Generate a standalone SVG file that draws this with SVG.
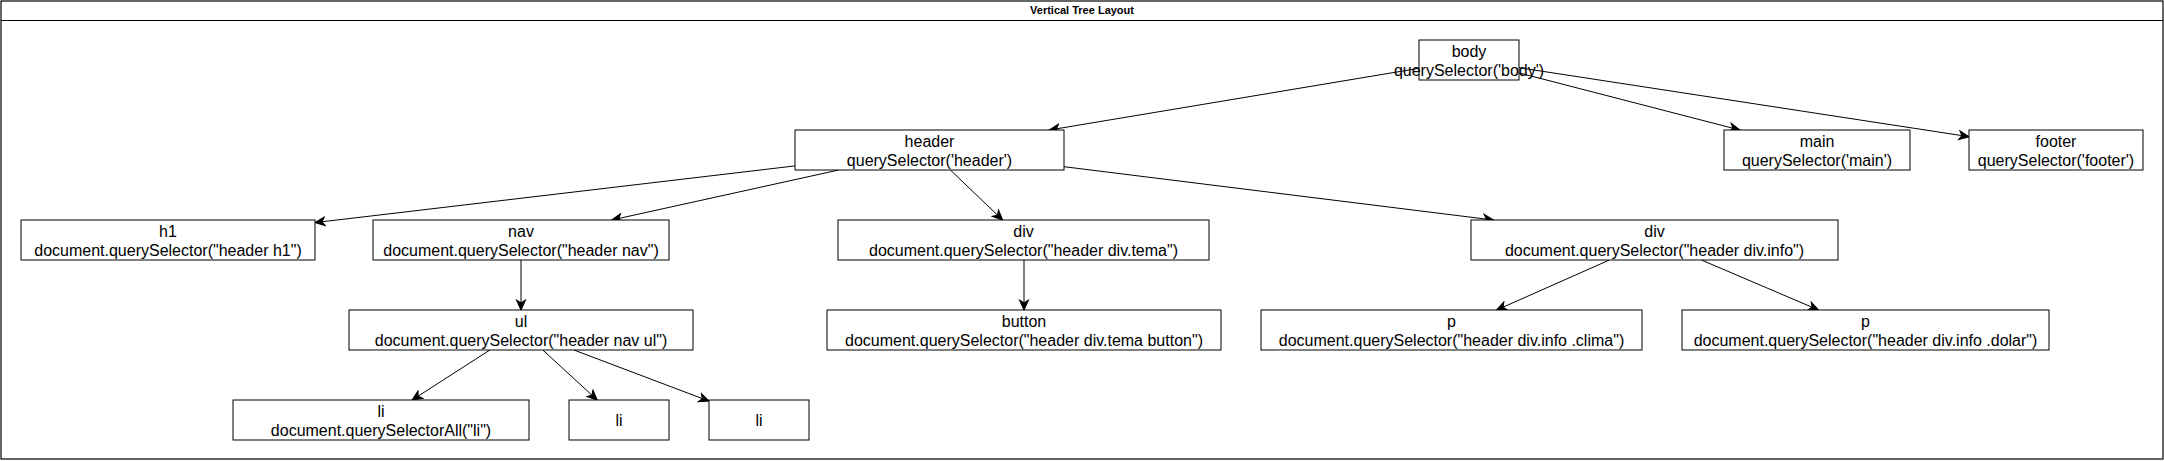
<svg xmlns="http://www.w3.org/2000/svg" width="2164" height="461" viewBox="0 0 2164 461">
<style>
.box{fill:#fff;stroke:#000;stroke-width:1}
.t{font-family:"Liberation Sans",Arial,sans-serif;font-size:16px;fill:#000;text-anchor:middle}
.title{font-family:"Liberation Sans",Arial,sans-serif;font-size:11px;font-weight:bold;fill:#000;text-anchor:middle}
.e{fill:none;stroke:#000;stroke-width:1;marker-end:url(#arr)}
</style>
<defs>
<marker id="arr" markerUnits="userSpaceOnUse" markerWidth="12" markerHeight="12" viewBox="-10 -5 11 10" refX="0" refY="0" orient="auto">
<path d="M0,0 L-9,-4 L-6.5,0 L-9,4 Z" fill="#000" stroke="#000" stroke-width="1"/>
</marker>
</defs>
<rect x="0" y="0" width="2164" height="461" fill="#fff"/>
<g id="frame">
<rect x="1" y="1" width="2162" height="458" fill="#fff" stroke="#000" stroke-width="1.2"/>
<line x1="1" y1="20.5" x2="2163" y2="20.5" stroke="#000" stroke-width="1.2"/>
<text class="title" x="1082" y="14">Vertical Tree Layout</text>
</g>
<g id="connectors">
<path class="e" d="M1419,68.3 L1049.4,130"/>
<path class="e" d="M1519,72.9 L1739.7,130"/>
<path class="e" d="M1519,67.7 L1969,136.7"/>
<path class="e" d="M795,165.9 L315,222.6"/>
<path class="e" d="M838.7,170 L611.8,220"/>
<path class="e" d="M950.4,170 L1002.6,220"/>
<path class="e" d="M1064,166.7 L1493.4,220"/>
<path class="e" d="M521,260 L521,310"/>
<path class="e" d="M1024,260 L1024,310"/>
<path class="e" d="M1609.4,260 L1496.6,310"/>
<path class="e" d="M1701.4,260 L1818.6,310"/>
<path class="e" d="M489.9,350 L412.1,400"/>
<path class="e" d="M542.8,350 L597.2,400"/>
<path class="e" d="M573.9,350 L709,401.1"/>
</g>
<g id="body">
<rect class="box" x="1419" y="40" width="100" height="40"/>
<text class="t" x="1469" y="57">body</text>
<text class="t" x="1469" y="76">querySelector('body')</text>
</g>
<g id="header">
<rect class="box" x="795" y="130" width="269" height="40"/>
<text class="t" x="929.5" y="147">header</text>
<text class="t" x="929.5" y="166">querySelector('header')</text>
</g>
<g id="main">
<rect class="box" x="1724" y="130" width="186" height="40"/>
<text class="t" x="1817" y="147">main</text>
<text class="t" x="1817" y="166">querySelector('main')</text>
</g>
<g id="footer">
<rect class="box" x="1969" y="130" width="174" height="40"/>
<text class="t" x="2056" y="147">footer</text>
<text class="t" x="2056" y="166">querySelector('footer')</text>
</g>
<g id="h1">
<rect class="box" x="21" y="220" width="294" height="40"/>
<text class="t" x="168" y="237">h1</text>
<text class="t" x="168" y="256">document.querySelector("header h1")</text>
</g>
<g id="nav">
<rect class="box" x="373" y="220" width="296" height="40"/>
<text class="t" x="521" y="237">nav</text>
<text class="t" x="521" y="256">document.querySelector("header nav")</text>
</g>
<g id="div-tema">
<rect class="box" x="838" y="220" width="371" height="40"/>
<text class="t" x="1023.5" y="237">div</text>
<text class="t" x="1023.5" y="256">document.querySelector("header div.tema")</text>
</g>
<g id="div-info">
<rect class="box" x="1471" y="220" width="367" height="40"/>
<text class="t" x="1654.5" y="237">div</text>
<text class="t" x="1654.5" y="256">document.querySelector("header div.info")</text>
</g>
<g id="ul">
<rect class="box" x="349" y="310" width="344" height="40"/>
<text class="t" x="521" y="327">ul</text>
<text class="t" x="521" y="346">document.querySelector("header nav ul")</text>
</g>
<g id="button">
<rect class="box" x="827" y="310" width="394" height="40"/>
<text class="t" x="1024" y="327">button</text>
<text class="t" x="1024" y="346">document.querySelector("header div.tema button")</text>
</g>
<g id="p-clima">
<rect class="box" x="1261" y="310" width="381" height="40"/>
<text class="t" x="1451.5" y="327">p</text>
<text class="t" x="1451.5" y="346">document.querySelector("header div.info .clima")</text>
</g>
<g id="p-dolar">
<rect class="box" x="1682" y="310" width="367" height="40"/>
<text class="t" x="1865.5" y="327">p</text>
<text class="t" x="1865.5" y="346">document.querySelector("header div.info .dolar")</text>
</g>
<g id="li1">
<rect class="box" x="233" y="400" width="296" height="40"/>
<text class="t" x="381" y="417">li</text>
<text class="t" x="381" y="436">document.querySelectorAll("li")</text>
</g>
<g id="li2">
<rect class="box" x="569" y="400" width="100" height="40"/>
<text class="t" x="619" y="426">li</text>
</g>
<g id="li3">
<rect class="box" x="709" y="400" width="100" height="40"/>
<text class="t" x="759" y="426">li</text>
</g>
</svg>
